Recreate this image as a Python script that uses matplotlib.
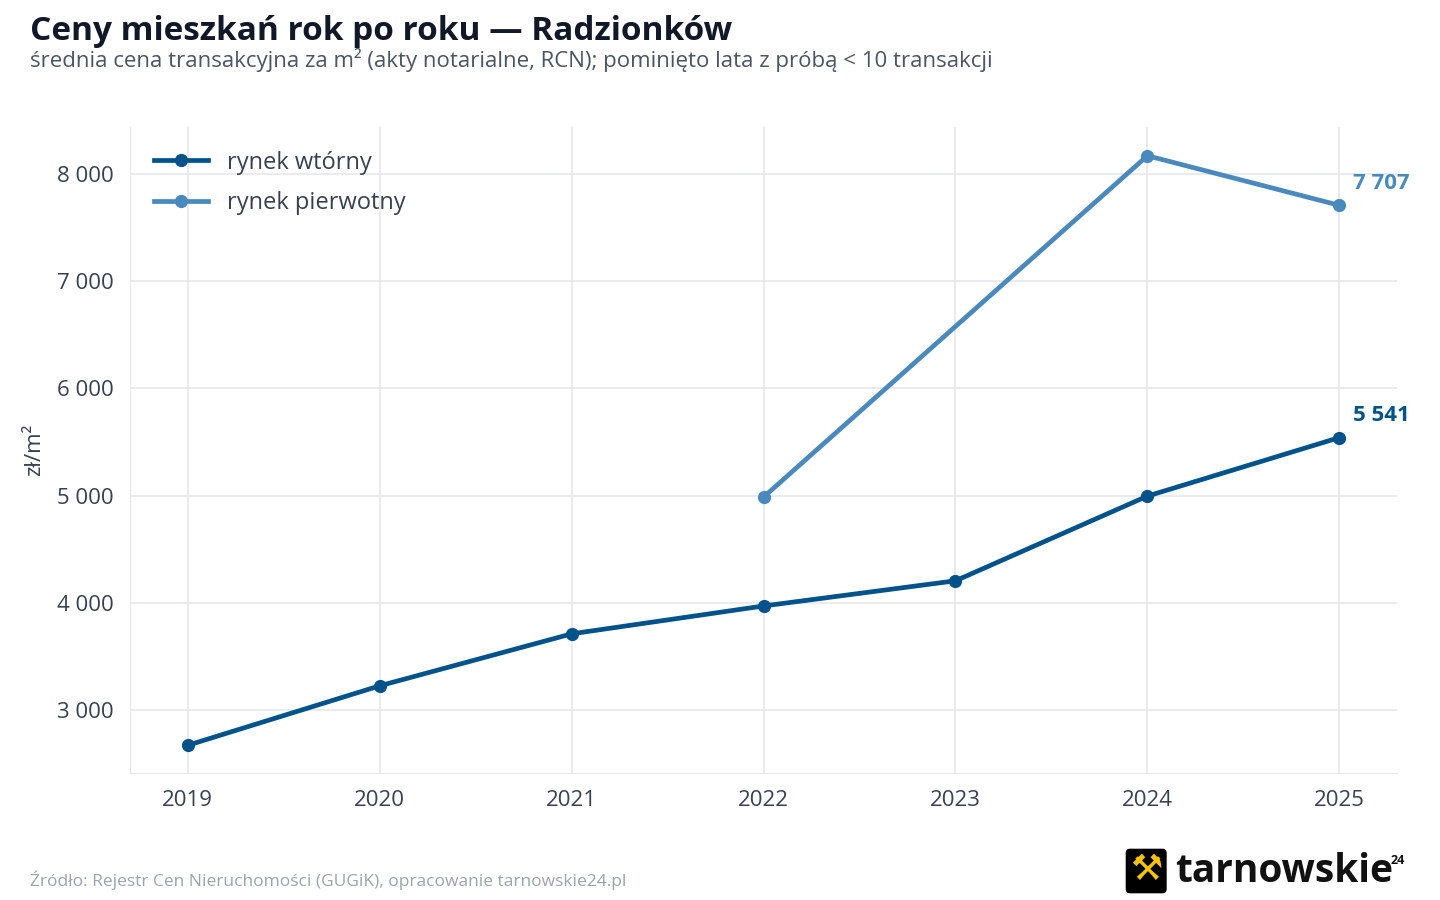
import matplotlib
matplotlib.use("Agg")
import matplotlib.pyplot as plt
from matplotlib.ticker import FuncFormatter

plt.rcParams['font.family'] = ['Open Sans', 'DejaVu Sans']

years_w = [2019, 2020, 2021, 2022, 2023, 2024, 2025]
vals_w = [2670, 3225, 3710, 3970, 4205, 4995, 5541]
years_p = [2022, 2024, 2025]
vals_p = [4985, 8170, 7707]
c_w = '#00538a'
c_p = '#4a89bd'

fig = plt.figure(figsize=(14.4, 9), dpi=100)
ax = fig.add_axes([130/1440, (900-773)/900, (1397-130)/1440, (773-127)/900])
ax.plot(years_w, vals_w, color=c_w, lw=3.4, marker='o', ms=8.5, label='rynek wtórny', zorder=3)
ax.plot(years_p, vals_p, color=c_p, lw=3.4, marker='o', ms=8.5, label='rynek pierwotny', zorder=3)
ax.set_xlim(2018.70, 2025.30)
ax.set_ylim(2412, 8438)
ax.set_xticks(years_w)
ax.set_yticks([3000, 4000, 5000, 6000, 7000, 8000])
ax.yaxis.set_major_formatter(FuncFormatter(lambda v, p: f"{int(v):,}".replace(',', ' ')))
ax.grid(True, color='#e5e7eb', lw=1.2)
ax.set_axisbelow(True)
for s in ['top', 'right']:
    ax.spines[s].set_visible(False)
for s in ['left', 'bottom']:
    ax.spines[s].set_color('#e5e7eb')
ax.tick_params(length=0, labelsize=16, colors='#374151', pad=12)
ax.set_ylabel('zł/m²', fontsize=16, color='#374151', labelpad=8)
for x, v, c in [(years_w[-1], vals_w[-1], c_w), (years_p[-1], vals_p[-1], c_p)]:
    ax.annotate(f"{v:,}".replace(',', ' '), (x, v), xytext=(10, 12), textcoords='offset points',
                fontsize=16, fontweight='bold', color=c)
leg = ax.legend(loc='upper left', frameon=False, fontsize=17, handlelength=2.3,
                labelcolor='#374151', borderaxespad=0.6, labelspacing=0.7)
fig.text(30/1440, 1-31/900, 'Ceny mieszkań rok po roku — Radzionków', fontsize=24,
         fontweight='bold', color='#111827', va='center')
fig.text(30/1440, 1-60/900, 'średnia cena transakcyjna za m² (akty notarialne, RCN); pominięto lata z próbą < 10 transakcji',
         fontsize=16, color='#4b5563', va='center')
fig.text(30/1440, 1-880/900, 'Źródło: Rejestr Cen Nieruchomości (GUGiK), opracowanie tarnowskie24.pl',
         fontsize=12.5, color='#9ca3af', va='center')
fig.text(1130/1440, 1-871/900, '⚒', fontsize=26, color='#f5c400', va='center',
         bbox=dict(boxstyle='round,pad=0.1', fc='black', ec='black'))
fig.text(1175/1440, 1-871/900, 'tarnowskie', fontsize=28, fontweight='bold', color='#111111', va='center')
fig.text(1398/1440, 1-860/900, '24', fontsize=9, fontweight='bold', color='#111111', va='center', ha='center')
fig.savefig('out.png', dpi=100)
